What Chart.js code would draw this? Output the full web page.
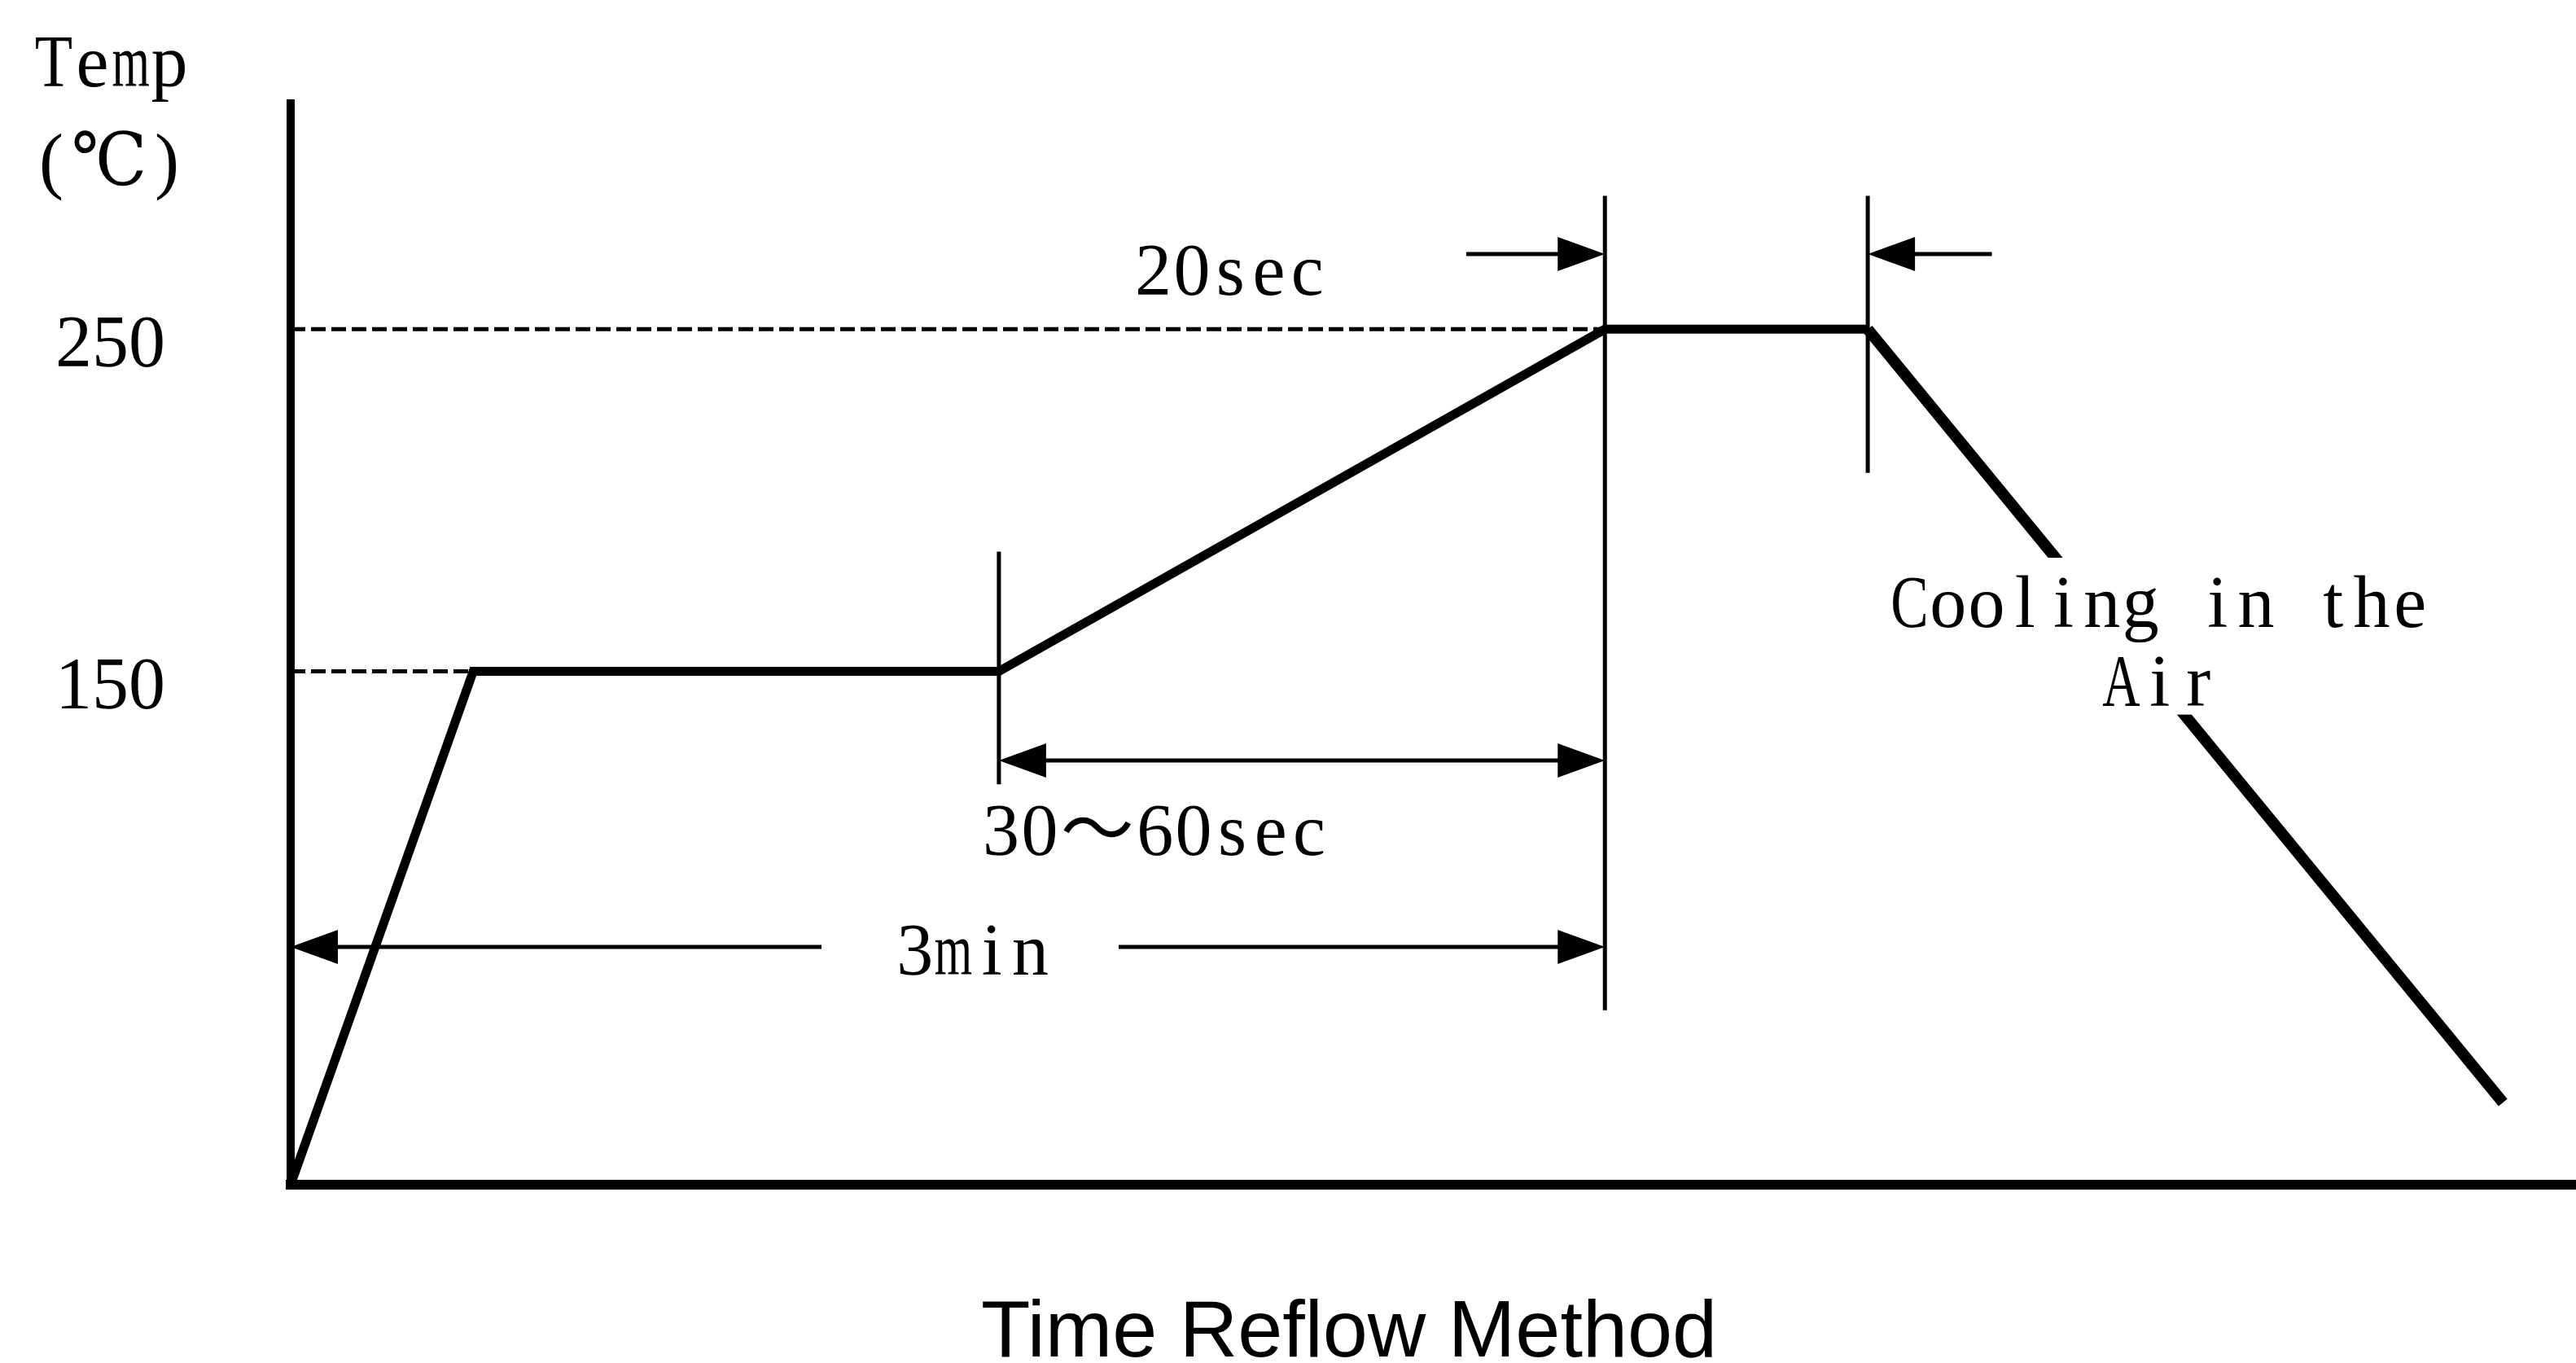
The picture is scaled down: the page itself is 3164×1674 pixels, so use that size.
<!DOCTYPE html>
<html>
<head>
<meta charset="utf-8">
<script src="https://cdn.jsdelivr.net/npm/chart.js@4/dist/chart.umd.min.js"></script>
<style>
html,body{margin:0;padding:0;background:#fff;overflow:hidden}
canvas{display:block}
</style>
</head>
<body>
<canvas id="c" width="3164" height="1674"></canvas>
<script>
// ---- data (schematic time units, temperature in ℃) ----
const heatTime = [0, 25, 97, 180, 216];
const heatTemp = [0, 150, 150, 250, 250];
const coolTime = [216, 303];
const coolTemp = [250, 24];
const yTickValues = [150, 250];
const refTemps = [150, 250];
const refEndTimes = [25, 180];
const markerTimes = [97, 180, 216];
const markerLows = [117, 51, 208];
const markerHighs = [185, 289, 289];
const arrowStart = [161, 233, 97, 0];
const arrowEnd = [180, 216, 180, 180];
const arrowLevel = [272, 272, 124, 69.5];
const arrowBoth = [false, false, true, true];
const arrowGapStart = [null, null, null, 72.7];
const arrowGapEnd = [null, null, null, 113.4];
const noteTexts = ['20sec', '30～60sec', '3min', 'Cooling in the', 'Air'];
const noteTimes = [128.7, 118.4, 93.4, 256, 256];
const noteTemps = [260.2, 96.4, 61.4, 163, 140];
const maskedNotes = [3, 4];
const axisTitleY = ['Temp', '(℃)'];
const axisTitleX = 'Time Reflow Method';

const SERIF = '"Liberation Serif", "DejaVu Serif", "Noto Sans CJK SC", serif';
const CELL = 47.3;

function toPts(xs, ys) { return xs.map((x, i) => ({ x: x, y: ys[i] })); }

function monoText(ctx, text, cx, baseline, cell) {
  const chars = Array.from(text);
  const w = chars.map(c => (c.charCodeAt(0) > 0x2000 ? 2 : 1));
  const total = w.reduce((a, b) => a + b, 0) * cell;
  let x = cx - total / 2;
  ctx.textAlign = 'center';
  ctx.textBaseline = 'alphabetic';
  chars.forEach((c, i) => {
    const cw = w[i] * cell;
    if (c !== ' ') ctx.fillText(c, x + cw / 2, baseline, cw * 0.98);
    x += cw;
  });
  return { left: cx - total / 2, right: cx + total / 2 };
}

function arrowHead(ctx, tipX, y, dir) {
  const L = 58, H = 21;
  ctx.beginPath();
  ctx.moveTo(tipX, y);
  ctx.lineTo(tipX - dir * L, y - H);
  ctx.lineTo(tipX - dir * L, y + H);
  ctx.closePath();
  ctx.fill();
}

const annotations = {
  id: 'annotations',
  afterDatasetsDraw(chart) {
    const { ctx } = chart;
    const xs = chart.scales.x, ys = chart.scales.y;
    ctx.save();
    ctx.fillStyle = '#000';
    ctx.strokeStyle = '#000';
    ctx.font = '90px ' + SERIF;

    // white mask behind the cooling note
    let mL = Infinity, mR = -Infinity, mT = Infinity, mB = -Infinity;
    maskedNotes.forEach(i => {
      const chars = Array.from(noteTexts[i]);
      const cells = chars.reduce((a, c) => a + (c.charCodeAt(0) > 0x2000 ? 2 : 1), 0);
      const cx = xs.getPixelForValue(noteTimes[i]);
      const by = ys.getPixelForValue(noteTemps[i]);
      mL = Math.min(mL, cx - cells * CELL / 2 - 10);
      mR = Math.max(mR, cx + cells * CELL / 2 + 10);
      mT = Math.min(mT, by - 85);
      mB = Math.max(mB, by + 11);
    });
    ctx.fillStyle = '#fff';
    ctx.fillRect(mL, mT, mR - mL, mB - mT);
    ctx.fillStyle = '#000';

    // dimension arrows
    ctx.lineWidth = 5;
    ctx.lineCap = 'butt';
    arrowStart.forEach((s, i) => {
      const x1 = xs.getPixelForValue(s);
      const x2 = xs.getPixelForValue(arrowEnd[i]);
      const y = ys.getPixelForValue(arrowLevel[i]);
      const dir = x2 > x1 ? 1 : -1;
      const a = arrowBoth[i] ? x1 + dir * 50 : x1;
      const b = x2 - dir * 50;
      ctx.beginPath();
      if (arrowGapStart[i] !== null) {
        const g1 = xs.getPixelForValue(arrowGapStart[i]);
        const g2 = xs.getPixelForValue(arrowGapEnd[i]);
        ctx.moveTo(a, y); ctx.lineTo(g1, y);
        ctx.moveTo(g2, y); ctx.lineTo(b, y);
      } else {
        ctx.moveTo(a, y); ctx.lineTo(b, y);
      }
      ctx.stroke();
      arrowHead(ctx, x2, y, dir);
      if (arrowBoth[i]) arrowHead(ctx, x1, y, -dir);
    });

    // notes
    noteTexts.forEach((t, i) => {
      monoText(ctx, t, xs.getPixelForValue(noteTimes[i]), ys.getPixelForValue(noteTemps[i]), CELL);
    });

    // y axis title (top-left corner of the canvas)
    monoText(ctx, axisTitleY[0], 137, 106, CELL);
    monoText(ctx, axisTitleY[1], 134, 227, CELL);

    // x axis title
    ctx.font = '99px "Liberation Sans", Arial, sans-serif';
    ctx.textAlign = 'center';
    ctx.textBaseline = 'alphabetic';
    ctx.fillText(axisTitleX, 1657, 1666);
    ctx.restore();
  }
};

const lineBase = { borderColor: '#000', backgroundColor: '#000', pointRadius: 0, tension: 0, fill: false, borderJoinStyle: 'miter', borderCapStyle: 'butt' };

const datasets = [
  Object.assign({ label: 'Heating', data: toPts(heatTime, heatTemp), borderWidth: 11 }, lineBase),
  Object.assign({ label: 'Cooling in the Air', data: toPts(coolTime, coolTemp), borderWidth: 14 }, lineBase)
];
refTemps.forEach((t, i) => {
  datasets.push(Object.assign({ label: 'Ref ' + t, data: [{ x: 0, y: t }, { x: refEndTimes[i], y: t }], borderWidth: 5, borderDash: [18, 7] }, lineBase));
});
markerTimes.forEach((t, i) => {
  datasets.push(Object.assign({ label: 'Marker ' + t, data: [{ x: t, y: markerLows[i] }, { x: t, y: markerHighs[i] }], borderWidth: 5 }, lineBase));
});

function zeroPad(s) { s.paddingTop = 0; s.paddingBottom = 0; s.paddingLeft = 0; s.paddingRight = 0; }

Chart.defaults.color = '#000';
new Chart(document.getElementById('c'), {
  type: 'line',
  data: { datasets: datasets },
  options: {
    responsive: false,
    animation: false,
    events: [],
    layout: { padding: { top: 127, right: 0, bottom: 0, left: 0 } },
    plugins: { legend: { display: false }, tooltip: { enabled: false }, title: { display: false } },
    scales: {
      x: {
        type: 'linear', min: 0, max: 313,
        grid: { display: false, drawTicks: false },
        border: { display: true, color: '#000', width: 12 },
        ticks: { display: false },
        afterFit: (s) => { s.height = 219; zeroPad(s); }
      },
      y: {
        type: 'linear', min: 0, max: 316,
        grid: { display: false, drawTicks: false },
        border: { display: true, color: '#000', width: 10 },
        ticks: { display: true, color: '#000', padding: 154, labelOffset: 22, font: { family: SERIF, size: 90 } },
        afterBuildTicks: (s) => { s.ticks = yTickValues.map(v => ({ value: v })); },
        afterFit: (s) => { s.width = 357; zeroPad(s); }
      }
    }
  },
  plugins: [annotations]
});
</script>
</body>
</html>
